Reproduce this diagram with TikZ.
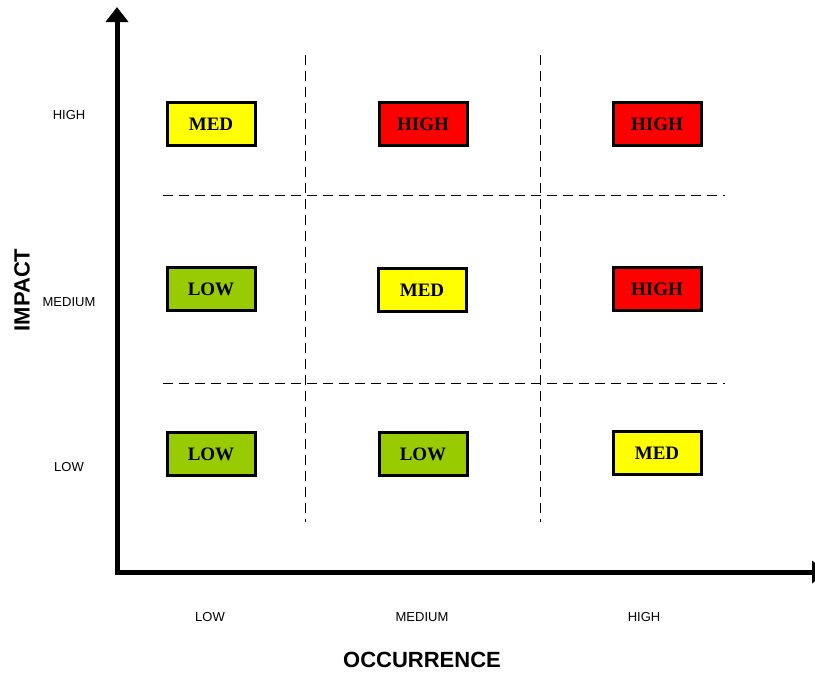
\documentclass[tikz,border=0pt]{standalone}
\usepackage{fontspec}
\setmainfont{Liberation Serif}
\setsansfont{Liberation Sans}
\usetikzlibrary{arrows.meta}
\definecolor{lowgreen}{RGB}{153,204,0}
\definecolor{medyellow}{RGB}{255,255,0}
\definecolor{highred}{RGB}{255,0,0}
\tikzset{
  rating/.style={draw=black, line width=3pt, minimum width=88pt, minimum height=43pt,
    inner sep=0pt, font=\fontsize{19}{19}\selectfont\bfseries},
  lowbox/.style={rating, fill=lowgreen},
  medbox/.style={rating, fill=medyellow},
  highbox/.style={rating, fill=highred},
  grid line/.style={black, line width=0.9pt, dash pattern=on 10pt off 6pt},
  axis/.style={line width=5pt, -{Triangle[width=22pt,length=15pt]}},
  tick label/.style={font=\sffamily\fontsize{13}{13}\selectfont},
  axis title/.style={font=\sffamily\bfseries\fontsize{22}{22}\selectfont}
}
\begin{document}
\begin{tikzpicture}[x=1pt, y=-1pt]
  \clip (0,0) rectangle (815,673);
  \fill[white] (0,0) rectangle (815,673);

  % axes
  \coordinate (ytip) at (117,7);
  \coordinate (xtip) at (827,572);
  \draw[axis] (117,574.5) -- (ytip);
  \draw[axis] (114.5,572) -- (xtip);

  % dashed grid
  \coordinate (v1t) at (305,55);  \coordinate (v1b) at (305,522);
  \coordinate (v2t) at (540,55);  \coordinate (v2b) at (540,522);
  \coordinate (h1l) at (163,195); \coordinate (h1r) at (725,195);
  \coordinate (h2l) at (163,383); \coordinate (h2r) at (725,383);
  \draw[grid line] (v1t) -- (v1b);
  \draw[grid line] (v2t) -- (v2b);
  \draw[grid line] (h1l) -- (h1r);
  \draw[grid line] (h2l) -- (h2r);

  % rating boxes
  \node[medbox]  (r11) at (211,124) {MED};
  \node[highbox] (r12) at (423,124) {HIGH};
  \node[highbox] (r13) at (657,124) {HIGH};
  \node[lowbox]  (r21) at (211,289) {LOW};
  \node[medbox]  (r22) at (422,290) {MED};
  \node[highbox] (r23) at (657,289) {HIGH};
  \node[lowbox]  (r31) at (211,454) {LOW};
  \node[lowbox]  (r32) at (423,454) {LOW};
  \node[medbox]  (r33) at (657,453) {MED};

  % impact levels
  \node[tick label] (yhigh) at (69,115) {HIGH};
  \node[tick label] (ymed)  at (69,302) {MEDIUM};
  \node[tick label] (ylow)  at (69,467) {LOW};

  % occurrence levels
  \node[tick label] (xlow)  at (210,617) {LOW};
  \node[tick label] (xmed)  at (422,617) {MEDIUM};
  \node[tick label] (xhigh) at (644,617) {HIGH};

  % axis titles
  \node[axis title, rotate=90] (impact) at (22,290) {IMPACT};
  \node[axis title] (occ) at (422,660) {OCCURRENCE};
\end{tikzpicture}
\end{document}
